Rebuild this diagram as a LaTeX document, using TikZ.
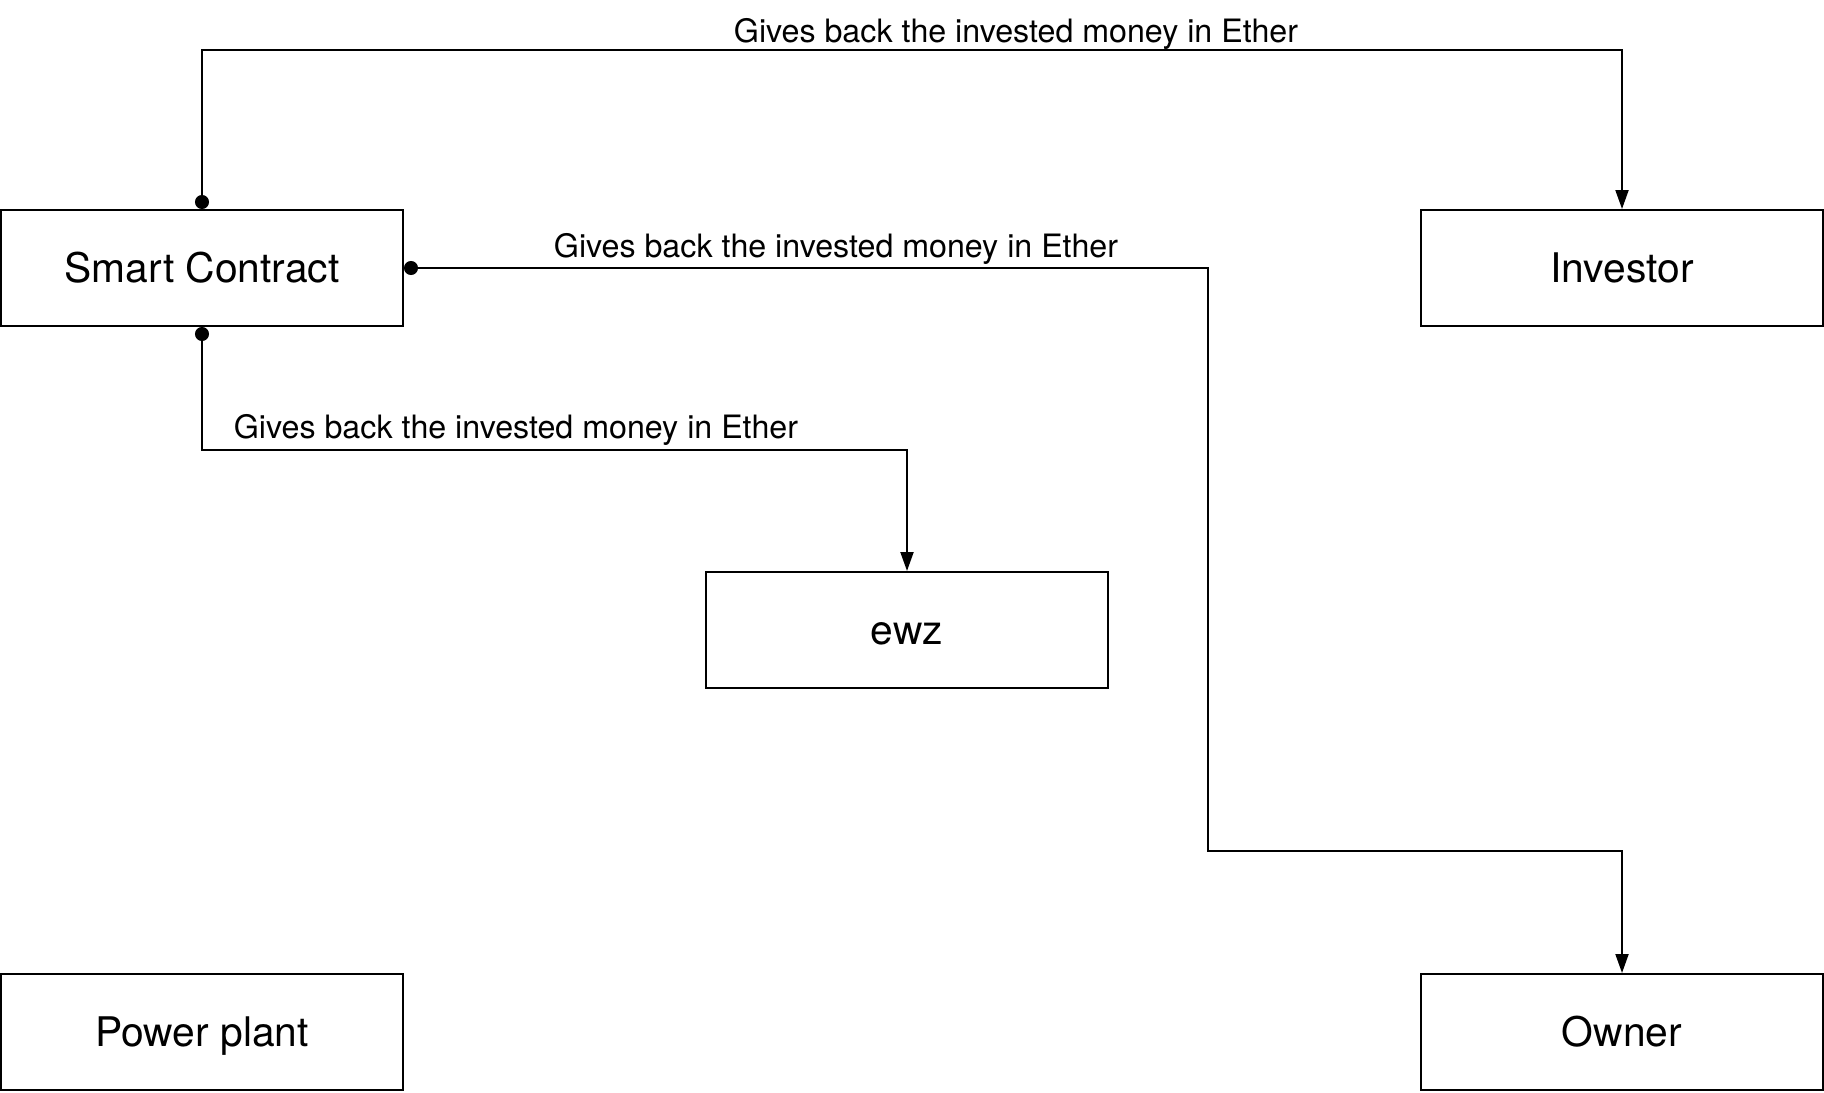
\documentclass[tikz,border=0pt]{standalone}
\usepackage{fontspec}
\setmainfont{TeX Gyre Heros}
\usetikzlibrary{arrows.meta}
\tikzset{
    block/.style={draw=black, line width=1pt, minimum width=201pt, minimum height=58pt,
        inner sep=0pt, text height=14.7pt, text depth=0pt, font=\fontsize{20.4}{24}\selectfont},
    flow/.style={draw=black, line width=1pt,
        {Circle[length=7pt]}-{Triangle[length=9.5pt,width=6.5pt]}},
    flowlabel/.style={anchor=base, inner sep=0pt, font=\fontsize{16.1}{19}\selectfont},
}
\begin{document}
\begin{tikzpicture}[x=0.5pt, y=-0.5pt]
		\useasboundingbox (0,0) rectangle (1824,1092);
		% boxes
		\node[block] (contract) at (202,268) {Smart Contract};
		\node[block] (investor) at (1622,268) {Investor};
		\node[block] (ewz) at (907,630) {ewz};
		\node[block] (plant) at (202,1032) {Power plant};
		\node[block] (owner) at (1622,1032) {Owner};
		% payments
		\draw[flow] (contract.north) -- ++(0,-159) -| (investor.north);
		\draw[flow] (contract.east) -- ++(804,0) -- ++(0,583) -| (owner.north);
		\draw[flow] (contract.south) -- ++(0,123) -| (ewz.north);
		\node[flowlabel] (toinvestor) at (1016,42) {Gives back the invested money in Ether};
		\node[flowlabel] (toowner) at (836,257) {Gives back the invested money in Ether};
		\node[flowlabel] (toewz) at (516,438) {Gives back the invested money in Ether};
\end{tikzpicture}
\end{document}
